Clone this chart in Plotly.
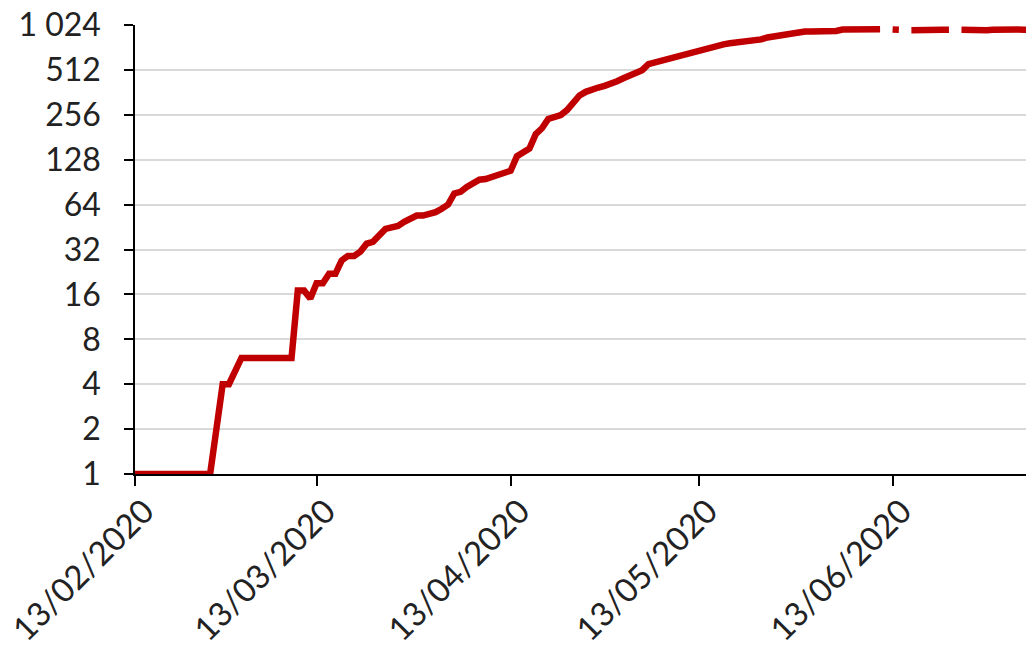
import pandas as pd
import plotly.graph_objects as go

start_date = "2020-02-13"
# daily cumulative values (None = missing day)
values = [
    1, 1, 1, 1, 1, 1, 1, 1, 1, 1, 1, 1, 1,          # d0-12
    2, 4, 4, 5, 6, 6, 6, 6, 6, 6, 6, 6, 6,          # d13-25
    17, 17, 15, 19, 19, 22, 22, 27, 29, 29,         # d26-35
    31, 35, 36, 40, 44, 45, 46, 49, 52, 54,         # d36-45
    54, 55, 57, 60, 64, 76, 78, 84, 88, 94,         # d46-55
    95, 98, 102, 104, 108, 135, 145, 152, 190, 208, # d56-65
    240, 245, 255, 275, 310, 345, 365, 380, 390, 400,  # d66-75
    410, 430, 450, 468, 485, 510, 560, 575, 578, 595,  # d76-85
    615, 635, 655, 675, 695, 712, 730, 748, 760, 772,  # d86-95
    780, 785, 790, 805, 820, 845, 860, 870, 885, 910,  # d96-105
    925, 925, 928, 928, 930, 930, 935, 955, 958, 955,  # d106-115
    958, 960, 955, 958, None, 955, 950, None, 945, 950,  # d116-125
    955, 950, 945, 950, 950, None, 950, 945, 955, 950,  # d126-135
    945, 950, 955, 945, 950, 955, 950, 950,             # d136-143
]
dates = pd.date_range(start_date, periods=len(values), freq="D")

y_ticks = [1, 2, 4, 8, 16, 32, 64, 128, 256, 512, 1024]
y_tick_text = ["1", "2", "4", "8", "16", "32", "64", "128", "256", "512", "1 024"]
x_ticks = ["2020-02-13", "2020-03-13", "2020-04-13", "2020-05-13", "2020-06-13"]
x_tick_text = ["13/02/2020", "13/03/2020", "13/04/2020", "13/05/2020", "13/06/2020"]

# rotated labels sit slightly right of their tick marks (as in the Excel original)
label_pos = [pd.Timestamp(t) + pd.Timedelta(hours=36) for t in x_ticks]

fig = go.Figure()
fig.add_trace(go.Scatter(
    x=dates, y=values, mode="lines",
    line=dict(color="#C00000", width=6.5),
    connectgaps=False, showlegend=False,
))

font = dict(family="Lato, 'Open Sans', sans-serif", size=32, color="#222222")
xfont = dict(family="Lato, 'Open Sans', sans-serif", size=33, color="#222222")

# page body has an 8px margin, so the figure is sized/offset to fit the window
fig.update_layout(
    width=1026, height=644,
    margin=dict(l=127, r=0, t=17, b=178),
    paper_bgcolor="white", plot_bgcolor="white",
    font=font,
    xaxis=dict(
        type="date",
        range=["2020-02-13", "2020-07-05 14:00"],
        tickmode="array",
        tickvals=label_pos, ticktext=x_tick_text,
        tickangle=-45,
        ticks="",
        minor=dict(tickmode="array", tickvals=x_ticks, ticks="outside",
                   ticklen=10, tickwidth=1.5, tickcolor="#000000", showgrid=False),
        showline=True, linecolor="#000000", linewidth=1.5,
        showgrid=False, zeroline=False,
        automargin=False,
        ticklabeloverflow="allow",
        ticklabelstandoff=3,
        tickfont=xfont,
    ),
    yaxis=dict(
        type="log",
        range=[0, 3.0103],
        tickvals=y_ticks, ticktext=y_tick_text,
        ticks="outside", ticklen=9, tickwidth=1.5, tickcolor="#000000",
        showline=True, linecolor="#000000", linewidth=1.5,
        showgrid=True, gridcolor="#d9d9d9", gridwidth=1.5,
        zeroline=False,
        automargin=False,
        ticklabeloverflow="allow",
        ticklabelstandoff=17,
        tickfont=font,
    ),
)

fig.write_html("out.html")
